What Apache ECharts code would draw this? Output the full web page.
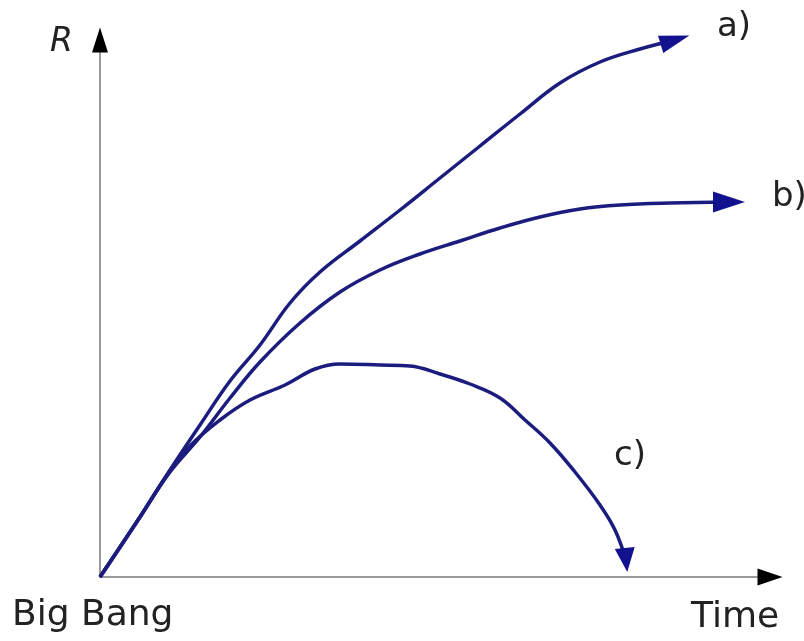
<!DOCTYPE html>
<html>
<head>
<meta charset="utf-8">
<script src="https://cdn.jsdelivr.net/npm/echarts@6/dist/echarts.min.js"></script>
<style>
  html, body { margin: 0; padding: 0; background: #fff; }
  #chart_main { width: 804px; height: 641px; }
</style>
</head>
<body>
<div id="chart_main"></div>
<script>
// values (time, R), arbitrary units from the Big Bang origin
const timeA = [0, 40, 70, 100, 130, 160, 190, 220, 260, 300, 340, 380, 420, 460, 500, 540, 575];
const radiusA = [0, 60, 107, 152, 196, 232, 274, 305, 336, 367, 399, 431, 463, 494, 515, 528, 537];

const timeB = [0, 40, 70, 100, 130, 160, 200, 240, 280, 320, 360, 400, 440, 480, 520, 570, 629];
const radiusB = [0, 60, 105, 140, 179, 215, 254, 285, 307, 323, 336, 349, 360, 368, 372, 374, 375];

const timeC = [0, 40, 65, 90, 120, 150, 185, 215, 240, 280, 310, 340, 370, 400, 425, 450, 475, 500, 515, 526];
const radiusC = [0, 60, 99, 131, 157, 177, 192, 208, 213, 212, 211, 203, 193, 179, 157, 134, 105, 72, 47, 17];

const curveNames = ['a)', 'b)', 'c)'];

const lineColor = '#1c1c7e';
const arrowColor = '#12128e';
const axisGray = '#9a9a9a';

// builds the point list, the last point gets the arrow head
function makeData(xs, ys, rotate, size) {
  let out = [];
  for (let i = 0; i < xs.length; i++) {
    if (i === xs.length - 1) {
      out.push({
        value: [xs[i], ys[i]],
        symbol: 'triangle',
        symbolSize: size,
        symbolRotate: rotate,
        itemStyle: { color: arrowColor }
      });
    } else {
      out.push([xs[i], ys[i]]);
    }
  }
  return out;
}

function init() {
  let Chart = echarts.init(document.getElementById('chart_main'));

  const plainAxis = {
    type: 'value',
    min: 0,
    splitLine: { show: false },
    axisTick: { show: false },
    axisLabel: { show: false }
  };

  let option = {
    animation: false,
    backgroundColor: '#fff',
    grid: { left: 100, right: 34, top: 40, bottom: 64 },
    xAxis: [
      Object.assign({}, plainAxis, {
        max: 670,
        axisLine: { show: true, onZero: false, lineStyle: { color: axisGray, width: 2 } }
      }),
      Object.assign({}, plainAxis, {
        max: 670,
        position: 'bottom',
        axisLine: {
          show: true, onZero: false,
          symbol: ['none', 'triangle'], symbolSize: [17, 25],
          lineStyle: { color: '#000', width: 0 }
        }
      })
    ],
    yAxis: [
      Object.assign({}, plainAxis, {
        max: 537,
        axisLine: { show: true, onZero: false, lineStyle: { color: axisGray, width: 2 } }
      }),
      Object.assign({}, plainAxis, {
        max: 537,
        position: 'left',
        axisLine: {
          show: true, onZero: false,
          symbol: ['none', 'triangle'], symbolSize: [16, 25],
          lineStyle: { color: '#000', width: 0 }
        }
      })
    ],
    graphic: [
      { type: 'text', left: 50, top: 26, style: { text: 'R', font: 'italic 33px "DejaVu Sans"', fill: '#222' } },
      { type: 'text', left: 717, top: 10, style: { text: curveNames[0], font: '34px "DejaVu Sans"', fill: '#222' } },
      { type: 'text', left: 772, top: 180, style: { text: curveNames[1], font: '34px "DejaVu Sans"', fill: '#222' } },
      { type: 'text', left: 614, top: 439, style: { text: curveNames[2], font: '34px "DejaVu Sans"', fill: '#222' } },
      { type: 'text', left: 12, top: 598, style: { text: 'Big Bang', font: '36px "DejaVu Sans"', fill: '#222' } },
      { type: 'text', left: 691, top: 600, style: { text: 'Time', font: '36px "DejaVu Sans"', fill: '#222' } }
    ],
    series: [
      {
        name: curveNames[0],
        type: 'line',
        smooth: 0.4,
        symbol: 'none',
        showSymbol: true,
        clip: false,
        lineStyle: { color: lineColor, width: 3.5 },
        data: makeData(timeA, radiusA, -73, [18, 30])
      },
      {
        name: curveNames[1],
        type: 'line',
        smooth: 0.4,
        symbol: 'none',
        showSymbol: true,
        clip: false,
        lineStyle: { color: lineColor, width: 3.5 },
        data: makeData(timeB, radiusB, -90, [21, 32])
      },
      {
        name: curveNames[2],
        type: 'line',
        smooth: 0.4,
        symbol: 'none',
        showSymbol: true,
        clip: false,
        lineStyle: { color: lineColor, width: 3.5 },
        data: makeData(timeC, radiusC, -174, [20, 24])
      }
    ]
  };
  Chart.setOption(option);
}

init();
</script>
</body>
</html>
